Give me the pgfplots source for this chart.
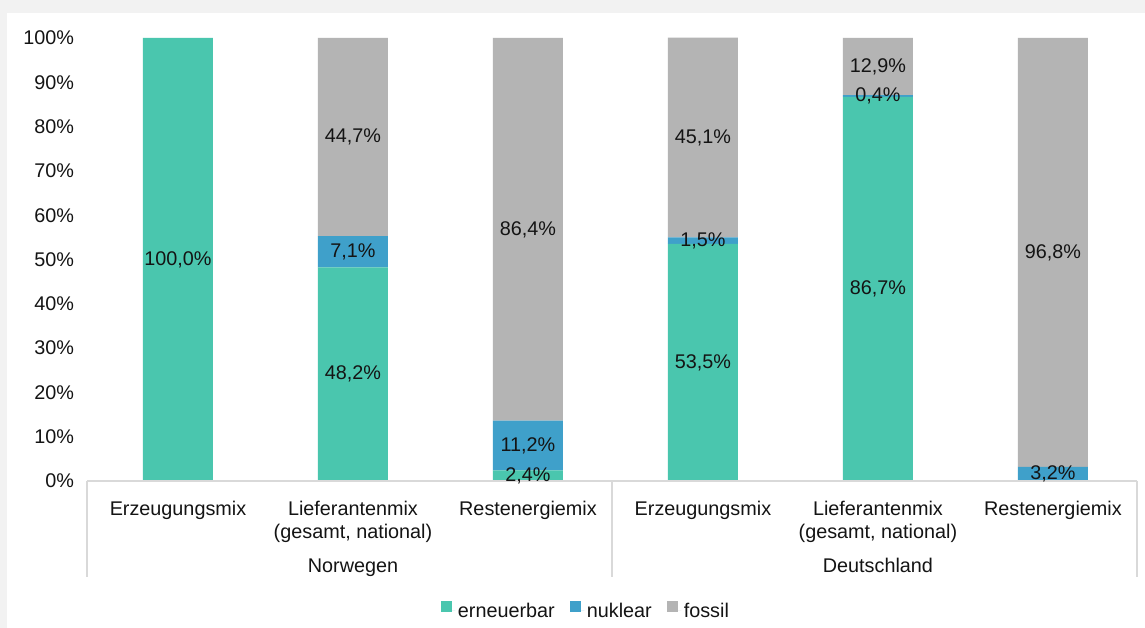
\documentclass[border=0pt]{standalone}
\usepackage{fontspec}
\setmainfont{Liberation Sans}
\usepackage{pgfplots}
\pgfplotsset{compat=1.18}
\usepackage{pgfplotstable}
\definecolor{ernc}{HTML}{4AC6AE}
\definecolor{nukc}{HTML}{3FA0CA}
\definecolor{fosc}{HTML}{B4B4B4}
\definecolor{sepc}{HTML}{D9D9D9}
\definecolor{txtc}{HTML}{141414}
\definecolor{bgc}{HTML}{F2F2F2}

\pgfplotstableread{
x ern nuk fos
0 100 0 0
1 48.2 7.1 44.7
2 2.4 11.2 86.4
3 53.5 1.5 45.1
4 86.7 0.4 12.9
5 0 3.2 96.8
}\mixdata

\tikzset{lbl/.style={font=\fontsize{19.8}{23}\selectfont, text=txtc}}
\pgfplotsset{
  mixbase/.style={
    at={(87pt,147pt)}, anchor=south west,
    scale only axis, width=1050pt, height=443pt,
    xmin=-0.52, xmax=5.48, ymin=0, ymax=100,
    clip=false,
    axis line style={draw=none},
    major tick length=0pt,
    /pgf/number format/assume math mode=true,
  },
  lblplot/.style={draw=none, mark=none, only marks,
    nodes near coords={\pgfmathprintnumber[fixed,fixed zerofill,precision=1,use comma]{\pgfplotspointmeta}\%},
    every node near coord/.append style={/tikz/lbl, anchor=center}},
}

\begin{document}
\begin{tikzpicture}
\useasboundingbox (0,0) rectangle (1145pt,628pt);
\fill[bgc] (0,0) rectangle (1145pt,628pt);
\fill[white] (7pt,0) rectangle (1145pt,615pt);
\begin{axis}[mixbase, ybar stacked, bar width=70pt,
  ytick={0,10,...,100},
  yticklabel={\pgfmathprintnumber{\tick}\%},
  yticklabel style={/tikz/lbl, xshift=-9.4pt},
  xtick={0,...,5},
  xticklabels={Erzeugungsmix,{Lieferantenmix\\(gesamt, national)},Restenergiemix,Erzeugungsmix,{Lieferantenmix\\(gesamt, national)},Restenergiemix},
  xticklabel style={/tikz/lbl, align=center, anchor=north, yshift=-17pt},
  legend style={at={(0.4757,-0.293)}, anchor=center, draw=none, fill=none,
    legend columns=-1, font=\fontsize{19.8}{23}\selectfont, text=txtc,
    /tikz/every even column/.append style={column sep=13pt},
    nodes={inner xsep=2.5pt}},
  legend image code/.code={\fill[#1] (0pt,-1pt) rectangle (11pt,10pt); \path (0pt,0pt) -- (14pt,0pt);},
]
\addplot[fill=ernc, draw=none] table[x=x,y=ern]{\mixdata};
\addplot[fill=nukc, draw=none] table[x=x,y=nuk]{\mixdata};
\addplot[fill=fosc, draw=none] table[x=x,y=fos]{\mixdata};
\legend{erneuerbar,nuklear,fossil}
\end{axis}
\begin{axis}[mixbase, hide axis]
\addplot[lblplot, point meta=\thisrow{ern}, restrict expr to domain={\thisrow{ern}}{0.05:1000}]
  table[x=x, y expr=\thisrow{ern}/2]{\mixdata};
\addplot[lblplot, point meta=\thisrow{nuk}, restrict expr to domain={\thisrow{nuk}}{0.05:1000}]
  table[x=x, y expr=\thisrow{ern}+\thisrow{nuk}/2]{\mixdata};
\addplot[lblplot, point meta=\thisrow{fos}, restrict expr to domain={\thisrow{fos}}{0.05:1000}]
  table[x=x, y expr=\thisrow{ern}+\thisrow{nuk}+\thisrow{fos}/2]{\mixdata};
\draw[sepc, line width=1.5pt] (axis cs:-0.52,0) -- (axis cs:5.48,0);
\draw[sepc, line width=1.5pt] (axis cs:-0.52,0) -- ([yshift=-96pt]axis cs:-0.52,0);
\draw[sepc, line width=1.5pt] (axis cs:2.48,0) -- ([yshift=-96pt]axis cs:2.48,0);
\draw[sepc, line width=1.5pt] (axis cs:5.48,0) -- ([yshift=-96pt]axis cs:5.48,0);
\node[lbl, anchor=base] at ([yshift=-92pt]axis cs:1,0) {Norwegen};
\node[lbl, anchor=base] at ([yshift=-92pt]axis cs:4,0) {Deutschland};
\end{axis}
\end{tikzpicture}
\end{document}
